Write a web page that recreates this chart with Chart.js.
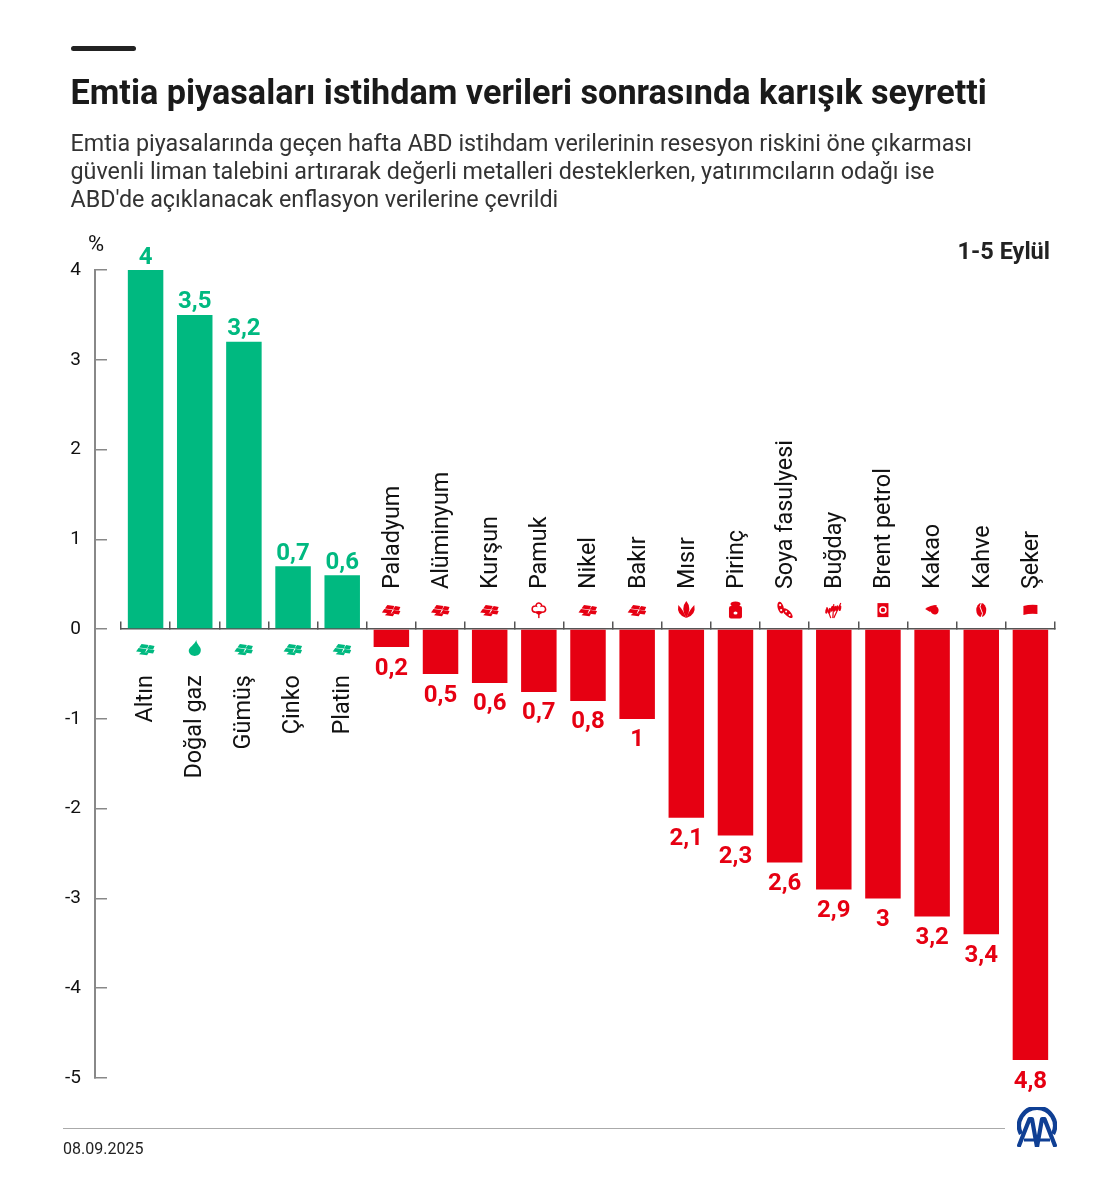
<!DOCTYPE html>
<html lang="tr"><head><meta charset="utf-8">
<script src="https://cdn.jsdelivr.net/npm/chart.js@4"></script>
<style>
html,body{margin:0;padding:0;background:#fff;width:1120px;height:1186px;overflow:hidden;font-family:Roboto,sans-serif;color:#111}
#wrap{position:relative;width:1120px;height:1186px}
canvas{position:absolute;left:0;top:0}
.t{position:absolute;white-space:nowrap}
#bar{left:71px;top:46px;width:65px;height:5px;background:#222;border-radius:3px}
#title{left:70.5px;top:71px;font-size:34.2px;font-weight:700;line-height:42px;color:#1a1a1a}
.sub{left:70.5px;font-size:23.3px;line-height:28px;color:#333}
#pct{left:88px;top:232px;font-size:22px;line-height:24px;color:#111}
#period{right:70px;top:237px;font-size:23.5px;font-weight:700;line-height:28px;color:#222}
#rule{position:absolute;left:63px;top:1127.5px;width:942px;height:1.5px;background:#aaa}
#date{left:63px;top:1140px;font-size:16px;line-height:18px;color:#222}
#logo{position:absolute;left:1017px;top:1107px;width:40px;height:40px}
</style></head><body><div id="wrap">
<canvas id="c" width="1120" height="1186"></canvas>
<div class="t" id="bar"></div>
<div class="t" id="title">Emtia piyasaları istihdam verileri sonrasında karışık seyretti</div>
<div class="t sub" style="top:129px">Emtia piyasalarında geçen hafta ABD istihdam verilerinin resesyon riskini öne çıkarması</div>
<div class="t sub" style="top:157px">güvenli liman talebini artırarak değerli metalleri desteklerken, yatırımcıların odağı ise</div>
<div class="t sub" style="top:185px">ABD'de açıklanacak enflasyon verilerine çevrildi</div>
<div class="t" id="pct">%</div>
<div class="t" id="period">1-5 Eylül</div>
<div id="rule"></div>
<div class="t" id="date">08.09.2025</div>
<svg id="logo" viewBox="0 0 40 40"><g fill="none" stroke="#0f3f94">
<path d="M4 27A18 18 0 1 1 36 27" stroke-width="4.4"/>
<path d="M1.5 40L12.5 12H15L20 40M20 40L25 12H27.5L38.5 40" stroke-width="4.2" stroke-linejoin="round"/>
<path d="M7 33H17M23 33H33" stroke-width="3"/></g></svg>
</div>
<script>
const categories=["Altın","Doğal gaz","Gümüş","Çinko","Platin","Paladyum","Alüminyum","Kurşun","Pamuk","Nikel","Bakır","Mısır","Pirinç","Soya fasulyesi","Buğday","Brent petrol","Kakao","Kahve","Şeker"];
const changes=[4,3.5,3.2,0.7,0.6,-0.2,-0.5,-0.6,-0.7,-0.8,-1,-2.1,-2.3,-2.6,-2.9,-3,-3.2,-3.4,-4.8];
const icons=["ingot","drop","ingot","ingot","ingot","ingot","ingot","ingot","cotton","ingot","ingot","plant","bag","soy","wheat","barrel","cacao","coffee","sugar"];
const yTicks=[4,3,2,1,0,-1,-2,-3,-4,-5];
const GREEN="#00b980",RED="#e60012";

function ell(c,x,y,rx,ry,rot){c.beginPath();c.ellipse(x,y,rx,ry,rot,0,Math.PI*2);c.fill();}
const drawIcon={
 ingot(c){const p=(x,y,w,h)=>{c.beginPath();c.moveTo(x,y);c.lineTo(x+w,y+1);c.lineTo(x+w-1.5,y+h+1);c.lineTo(x-2.5,y+h);c.closePath();c.fill();};
  p(-4,-5,7,3.4);p(4,-4,5,3.4);p(-7,-1,8,3.4);p(2.5,0,6.5,3.4);p(-4,2.6,7,2.6);},
 drop(c){c.beginPath();c.moveTo(1.5,-9);c.bezierCurveTo(2,-4,7,-2,6,2);c.bezierCurveTo(5,8.5,-5,8.5,-6,2);c.bezierCurveTo(-6,-2,0,-4,1.5,-9);c.fill();},
 cotton(c){c.lineWidth=1.5;c.beginPath();c.arc(-3.5,-1,3.2,Math.PI*0.5,Math.PI*1.6);c.arc(0,-4,3,Math.PI*1.1,Math.PI*1.9);c.arc(3.5,-1,3.2,Math.PI*1.4,Math.PI*0.5);c.stroke();
  c.beginPath();c.moveTo(-5,2);c.quadraticCurveTo(0,0,5,2);c.lineTo(0,5);c.closePath();c.fill();c.fillRect(-0.7,3,1.4,5);},
 plant(c){c.beginPath();c.moveTo(0,-9);c.quadraticCurveTo(6,-2,0,8);c.quadraticCurveTo(-6,-2,0,-9);c.fill();
  c.beginPath();c.moveTo(-8,-5);c.quadraticCurveTo(-10,5,0,8);c.quadraticCurveTo(-3,0,-8,-5);c.fill();
  c.beginPath();c.moveTo(8,-5);c.quadraticCurveTo(10,5,0,8);c.quadraticCurveTo(3,0,8,-5);c.fill();},
 bag(c){c.beginPath();c.roundRect(-6.5,-4,13,12.5,2);c.fill();ell(c,0,-6,5,2.5,0);c.fillStyle="#fff";ell(c,0,3,2,1.5,0);},
 soy(c){c.save();c.translate(-4,-2.5);c.rotate(-0.25);ell(c,0,0,3,6,0);c.restore();c.save();c.translate(3,3);c.rotate(-0.8);ell(c,0,0,2.8,6.5,0);c.restore();c.fillStyle="#fff";ell(c,-4.5,-5,1.1,1.1,0);ell(c,-3.5,0,1.1,1.1,0);ell(c,1.5,1.5,1,1,0);ell(c,5,5,1,1,0);},
 wheat(c){c.lineWidth=1.2;[[-3,8,-7,-3],[-1,8,0,-6],[0,8,7,-7]].forEach(s=>{c.beginPath();c.moveTo(s[0],s[1]);c.lineTo(s[2],s[3]);c.stroke();
   const mx=(s[0]+s[2]*2)/3,my=(s[1]+s[3]*2)/3;ell(c,mx-1.4,my,1.4,3,0.2);ell(c,mx+1.4,my,1.4,3,0.2);});},
 barrel(c){c.fillRect(-5.5,-7,11,14);c.strokeStyle="#fff";c.lineWidth=1.5;c.beginPath();c.arc(0,0,3,0,Math.PI*2);c.stroke();},
 cacao(c){ell(c,2.5,0,4,4.5,-0.2);c.beginPath();c.moveTo(-7,-1);c.quadraticCurveTo(-2,-5,5,-5);c.lineTo(-2,2);c.closePath();c.fill();},
 coffee(c){ell(c,0,0,5,7,0);c.strokeStyle="#fff";c.lineWidth=1;c.beginPath();c.moveTo(0,-7);c.quadraticCurveTo(-2.5,-3,0,0);c.quadraticCurveTo(2.5,3,0,7);c.stroke();},
 sugar(c){c.beginPath();c.moveTo(-7,-4);c.quadraticCurveTo(0,-6,7,-5);c.lineTo(7,4);c.quadraticCurveTo(0,3,-7,5);c.closePath();c.fill();}
};

const overlay={id:"overlay",
 afterLayout(chart){const x=chart.scales.x;x.left=121;x.right=1055;x.width=934;x.configure();},
 afterDatasetsDraw(chart){
  const c=chart.ctx,x=chart.scales.x,y=chart.scales.y;
  changes.forEach((v,i)=>{
   const px=x.getPixelForValue(i),py=y.getPixelForValue(v),col=v>=0?GREEN:RED;
   c.save();c.textAlign="center";c.textBaseline="alphabetic";c.fillStyle=col;c.font="700 24px Roboto";
   c.fillText(String(Math.abs(v)).replace(".",","),px,v>=0?py-6.5:py+27.5);c.restore();
   const zero=y.getPixelForValue(0);
   c.save();c.translate(px,v>=0?zero+20:zero-19);c.fillStyle=col;c.strokeStyle=col;drawIcon[icons[i]](c);c.restore();
   c.save();c.translate(v>=0?px+0.5:px+1.5,v>=0?zero+46:zero-40);c.rotate(-Math.PI/2);c.fillStyle="#111";c.font="400 23.4px Roboto";
   c.textBaseline="middle";c.textAlign=v>=0?"right":"left";c.fillText(categories[i],0,0);c.restore();
  });
 }};

new Chart(document.getElementById("c"),{type:"bar",
 data:{labels:categories,datasets:[{data:changes,backgroundColor:changes.map(v=>v>=0?GREEN:RED),borderWidth:0,barPercentage:0.722,categoryPercentage:1}]},
 plugins:[overlay],
 options:{responsive:false,animation:false,devicePixelRatio:1,
  layout:{padding:{left:0,right:65,top:270,bottom:108}},
  plugins:{legend:{display:false},tooltip:{enabled:false},title:{display:false}},
  scales:{
   x:{position:{y:0},offset:true,ticks:{display:false},
      grid:{offset:true,drawOnChartArea:false,color:"#555",tickLength:-8,lineWidth:1.5},
      border:{display:true,color:"#555",width:1.5},afterFit(s){s.height=0;}},
   y:{position:"left",min:-5,max:4,
      afterBuildTicks(s){s.ticks=yTicks.map(v=>({value:v}));},
      afterFit(s){s.width=95;},
      ticks:{font:{family:"Roboto",size:19},color:"#111",padding:26,autoSkip:false},
      grid:{drawOnChartArea:false,color:"#888",tickLength:-12,lineWidth:1.5},
      border:{display:true,color:"#888",width:2}}
  }}});
</script></body></html>
